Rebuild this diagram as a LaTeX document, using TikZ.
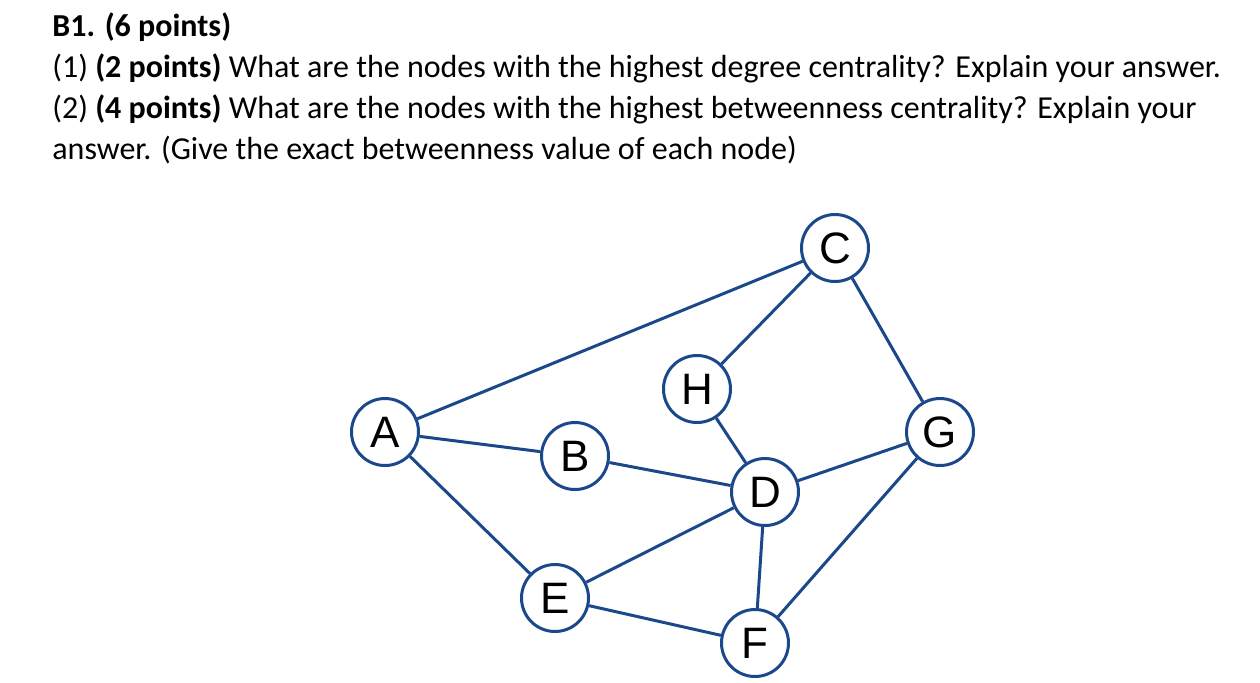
\documentclass[tikz,border=0pt]{standalone}
\usepackage{fontspec}
\setmainfont{Carlito}
\newfontfamily\vfont{Liberation Sans}
\usepackage{tikz}
\usepackage{xcolor}
\definecolor{gbnavy}{RGB}{26, 72, 138}
\definecolor{gbtext}{RGB}{0, 0, 0}

\begin{document}
\begin{tikzpicture}[
    x=0.5pt, y=-0.5pt,
    vert/.style={circle, draw=gbnavy, fill=white, line width=1.5pt,
                 minimum size=33.5pt, inner sep=0pt,
                 font=\vfont\fontsize{22}{24}\selectfont, text=gbtext},
    link/.style={line width=1.5pt, color=gbnavy},
    txt/.style={anchor=base west, inner sep=0pt,
                font=\fontsize{16}{19}\selectfont, text=gbtext}
  ]
    \useasboundingbox (0,0) rectangle (1260,682);

    \node[txt] (title) at (52, 36)  {\textbf{B1. (6 points)}};
    \node[txt] (q1)    at (52, 77)  {(1) \textbf{(2 points)} What are the nodes with the highest degree centrality? Explain your answer.};
    \node[txt] (q2)    at (52, 118) {(2) \textbf{(4 points)} What are the nodes with the highest betweenness centrality? Explain your};
    \node[txt] (q2b)   at (52, 159) {answer. (Give the exact betweenness value of each node)};

    \node[vert] (A) at (385, 432) {A};
    \node[vert] (B) at (575, 456) {B};
    \node[vert] (C) at (835, 248) {C};
    \node[vert] (D) at (765, 492) {D};
    \node[vert] (E) at (555, 598) {E};
    \node[vert] (F) at (755, 643) {F};
    \node[vert] (G) at (940, 432) {G};
    \node[vert] (H) at (697, 389) {H};

    \draw[link] (A) -- (C);
    \draw[link] (A) -- (B);
    \draw[link] (A) -- (E);
    \draw[link] (B) -- (D);
    \draw[link] (H) -- (C);
    \draw[link] (H) -- (D);
    \draw[link] (C) -- (G);
    \draw[link] (D) -- (G);
    \draw[link] (E) -- (D);
    \draw[link] (E) -- (F);
    \draw[link] (D) -- (F);
    \draw[link] (F) -- (G);
  \end{tikzpicture}
\end{document}
